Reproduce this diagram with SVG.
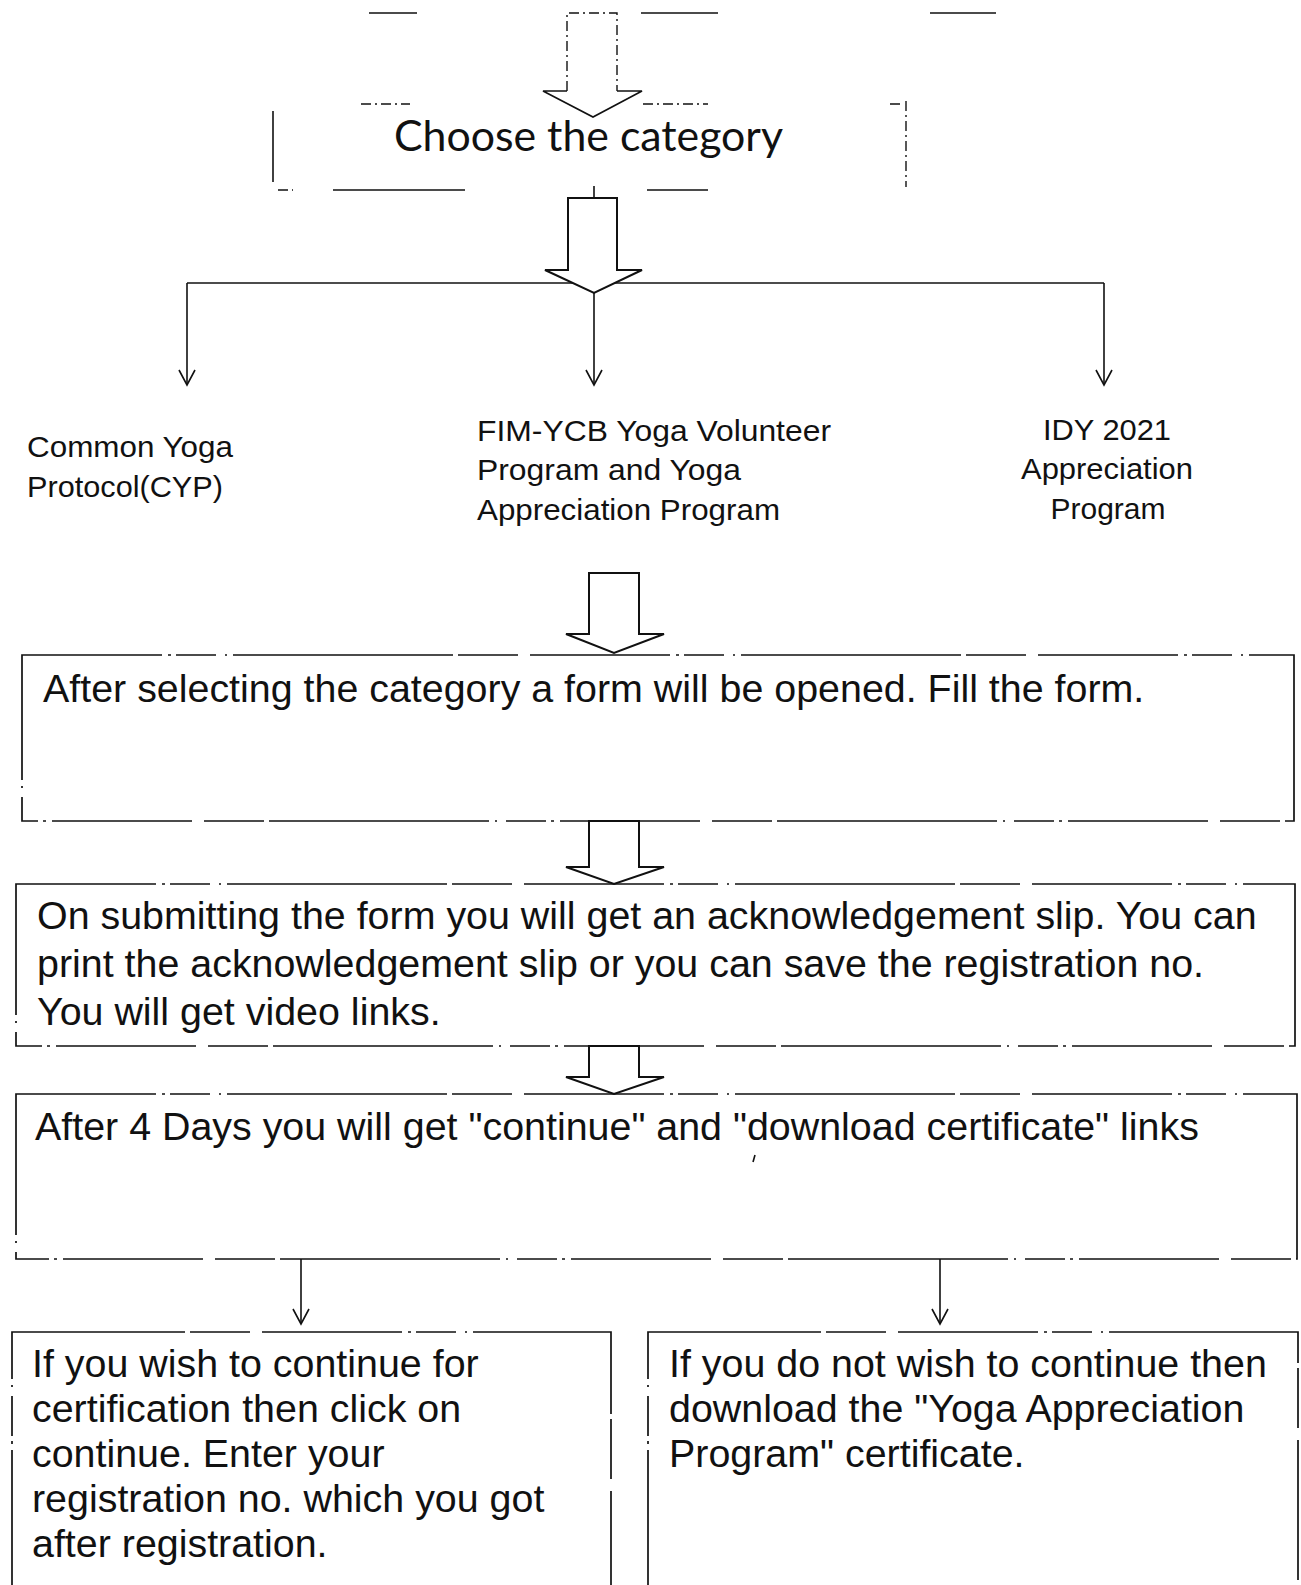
<svg xmlns="http://www.w3.org/2000/svg" width="1301" height="1585" viewBox="0 0 1301 1585">
<style>
  .t { font-family: "Liberation Sans", Arial, sans-serif; font-size: 39.4px; fill: #111; }
  .lbl { font-family: "Liberation Sans", Arial, sans-serif; font-size: 29px; fill: #111; }
  .cal { font-family: Lato, "Open Sans", sans-serif; font-size: 42px; fill: #111; }
  .box { fill: none; stroke: #111; stroke-width: 1.7; stroke-dasharray: 140 6 3 5 40 9 2 6 220 5 60 12; }
  .edge { fill: none; stroke: #111; stroke-width: 1.6; }
  .dash { fill: none; stroke: #111; stroke-width: 1.4; stroke-dasharray: 10 4 2 4; }
  .blk { fill: #fff; stroke: #111; stroke-width: 2; stroke-linejoin: miter; }
  .ln { fill: none; stroke: #111; stroke-width: 1.6; }
</style>
<defs>
  <marker id="v" markerWidth="18" markerHeight="20" viewBox="-16 -10 18 20" refX="0" refY="0" orient="auto" markerUnits="userSpaceOnUse">
    <path d="M-15,-8 L0,0 L-15,8" fill="none" stroke="#111" stroke-width="1.6"/>
  </marker>
</defs>
<rect width="1301" height="1585" fill="#fff"/>

<!-- fragments of box above (cut off) -->
<g id="top-fragment">
  <path class="edge" d="M369,13 H417 M641,13 H718 M930,13 H996"/>
</g>

<g id="connectors">
  <!-- branch lines -->
  <path class="ln" d="M187,283 H1104"/>
  <path class="ln" d="M187,283 V385" marker-end="url(#v)"/>
  <path class="ln" d="M594,293 V385" marker-end="url(#v)"/>
  <path class="ln" d="M1104,283 V385" marker-end="url(#v)"/>
  <!-- block arrow A (dashed shaft) -->
  <polygon points="567,13 617,13 617,91 642,91 593,117 543,91 567,91" fill="#fff" stroke="none"/>
  <path class="dash" d="M567,91 V13 H617 V91"/>
  <path class="edge" d="M567,91 H543 L593,117 L642,91 H617"/>
  <!-- block arrow B -->
  <polygon class="blk" points="568,198 617,198 617,270 642,270 594,293 545,270 568,270"/>
  <path class="edge" d="M594,186 V198"/>
  <!-- block arrows C, D, E -->
  <polygon class="blk" points="589,573 639,573 639,634 664,634 614,653 566,634 589,634"/>
  <polygon class="blk" points="589,821 639,821 639,867 664,867 614,884 566,867 589,867"/>
  <polygon class="blk" points="589,1046 639,1046 639,1077 664,1077 614,1094 566,1077 589,1077"/>
  <!-- thin arrows to bottom boxes -->
  <path class="ln" d="M301,1259 V1324" marker-end="url(#v)"/>
  <path class="ln" d="M940,1259 V1324" marker-end="url(#v)"/>
</g>

<g id="choose-category">
  <path class="edge" d="M273,111 V182"/>
  <path class="dash" d="M906,101 V187"/>
  <path class="dash" d="M361,104 H410 M643,104 H708 M890,104 H903"/>
  <path class="edge" d="M333,190 H465 M647,190 H708"/>
  <path class="dash" d="M278,190 H293"/>
  <text class="cal" x="394" y="151" textLength="389" lengthAdjust="spacingAndGlyphs">Choose the category</text>
</g>

<g id="cat-cyp">
  <text class="lbl" x="27" y="457" textLength="206" lengthAdjust="spacingAndGlyphs">Common Yoga</text>
  <text class="lbl" x="27" y="497" textLength="196" lengthAdjust="spacingAndGlyphs">Protocol(CYP)</text>
</g>

<g id="cat-fim">
  <text class="lbl" x="477" y="441" textLength="354" lengthAdjust="spacingAndGlyphs">FIM-YCB Yoga Volunteer</text>
  <text class="lbl" x="477" y="480" textLength="264" lengthAdjust="spacingAndGlyphs">Program and Yoga</text>
  <text class="lbl" x="477" y="520" textLength="303" lengthAdjust="spacingAndGlyphs">Appreciation Program</text>
</g>

<g id="cat-idy">
  <text class="lbl" x="1107" y="440" text-anchor="middle" textLength="128" lengthAdjust="spacingAndGlyphs">IDY 2021</text>
  <text class="lbl" x="1107" y="479" text-anchor="middle" textLength="172" lengthAdjust="spacingAndGlyphs">Appreciation</text>
  <text class="lbl" x="1108" y="519" text-anchor="middle" textLength="115" lengthAdjust="spacingAndGlyphs">Program</text>
</g>

<g id="fill-form">
  <rect class="box" x="22" y="655" width="1272" height="166"/>
  <text class="t" x="43" y="702">After selecting the category a form will be opened. Fill the form.</text>
</g>

<g id="submit-form">
  <rect class="box" x="16" y="884" width="1279" height="162"/>
  <text class="t" x="37" y="929">On submitting the form you will get an acknowledgement slip. You can</text>
  <text class="t" x="37" y="977">print the acknowledgement slip or you can save the registration no.</text>
  <text class="t" x="37" y="1025">You will get video links.</text>
</g>

<g id="after-4-days">
  <rect class="box" x="16" y="1094" width="1281" height="165"/>
  <text class="t" x="35" y="1140">After 4 Days you will get "continue" and "download certificate" links</text>
  <path class="edge" d="M755,1155 L753,1162"/>
</g>

<g id="continue">
  <path class="box" d="M12,1590 V1332 H611 V1590"/>
  <text class="t" x="32" y="1377">If you wish to continue for</text>
  <text class="t" x="32" y="1422">certification then click on</text>
  <text class="t" x="32" y="1467">continue. Enter your</text>
  <text class="t" x="32" y="1512">registration no. which you got</text>
  <text class="t" x="32" y="1557">after registration.</text>
</g>

<g id="not-continue">
  <path class="box" d="M648,1590 V1332 H1298 V1590"/>
  <text class="t" x="669" y="1377">If you do not wish to continue then</text>
  <text class="t" x="669" y="1422">download the "Yoga Appreciation</text>
  <text class="t" x="669" y="1467">Program" certificate.</text>
</g>
</svg>
